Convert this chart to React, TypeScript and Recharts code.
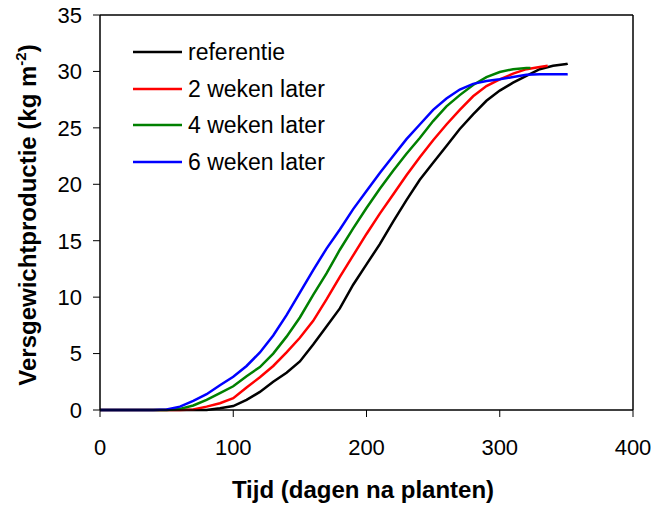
import { Label, Line, LineChart, ReferenceLine, XAxis, YAxis } from 'recharts'

// days after planting, every 10 days
const days = [
  0, 10, 20, 30, 40, 50, 60, 70, 80, 90, 100, 110, 120, 130, 140, 150, 160, 170,
  180, 190, 200, 210, 220, 230, 240, 250, 260, 270, 280, 290, 300, 310, 320, 330, 340, 350,
]

const referentie = [
  0, 0, 0, 0, 0, 0, 0, 0, 0, 0.15, 0.35, 0.9, 1.6, 2.5, 3.3, 4.3, 5.8, 7.4, 9.0, 11.1, 12.9,
  14.7, 16.7, 18.6, 20.4, 21.9, 23.4, 24.9, 26.2, 27.4, 28.3, 29.0, 29.6, 30.2, 30.5, 30.65,
]
const tweeWeken = [
  0, 0, 0, 0, 0, 0, 0, 0.05, 0.3, 0.6, 1.05, 2.0, 2.9, 3.9, 5.1, 6.4, 7.9, 9.8, 11.8, 13.7,
  15.6, 17.4, 19.1, 20.8, 22.4, 23.9, 25.3, 26.6, 27.8, 28.7, 29.3, 29.8, 30.2, 30.4,
]
const vierWeken = [
  0, 0, 0, 0, 0, 0, 0.1, 0.4, 0.9, 1.5, 2.1, 3.0, 3.8, 5.0, 6.5, 8.2, 10.2, 12.1, 14.2, 16.1,
  17.9, 19.6, 21.2, 22.7, 24.1, 25.6, 26.9, 27.9, 28.8, 29.5, 29.95, 30.2, 30.3,
]
const zesWeken = [
  0, 0, 0, 0, 0, 0.05, 0.3, 0.8, 1.4, 2.2, 2.95, 3.9, 5.1, 6.6, 8.4, 10.4, 12.4, 14.3, 16.0,
  17.8, 19.4, 21.0, 22.5, 24.0, 25.3, 26.6, 27.6, 28.4, 28.9, 29.15, 29.3, 29.5, 29.7, 29.75,
  29.75, 29.75,
]

// last simulated day of each run (between the 10-day points)
const endDays = [351, 336, 323, 351]
const endValues = [30.7, 30.5, 30.3, 29.76]

const seriesNames = ['referentie', '2 weken later', '4 weken later', '6 weken later']
const seriesValues = [referentie, tweeWeken, vierWeken, zesWeken]
const seriesColors = ['#000000', '#FF0000', '#008000', '#0000FF']

const xTicks = [0, 100, 200, 300, 400]
const yTicks = [0, 5, 10, 15, 20, 25, 30, 35]

const FONT = 'Arial, "Liberation Sans", sans-serif'

function toPoints(values: number[], endDay: number, endValue: number) {
  const pts = values.map((v, i) => ({ day: days[i], value: v }))
  if (endDay > pts[pts.length - 1].day) pts.push({ day: endDay, value: endValue })
  return pts
}

const series = seriesNames.map((name, i) => ({
  name,
  color: seriesColors[i],
  data: toPoints(seriesValues[i], endDays[i], endValues[i]),
}))

function ChartLegend() {
  return (
    <div style={{ position: 'absolute', left: 133, top: 34, fontFamily: FONT, fontSize: 23 }}>
      {series.map((s) => (
        <div key={s.name} style={{ display: 'flex', alignItems: 'center', height: 36.5 }}>
          <svg width={49} height={4} style={{ marginRight: 6 }}>
            <line x1={0} y1={2} x2={49} y2={2} stroke={s.color} strokeWidth={2.5} />
          </svg>
          <span style={{ color: '#000', lineHeight: '36.5px' }}>{s.name}</span>
        </div>
      ))}
    </div>
  )
}

export default function App() {
  return (
    <div style={{ position: 'absolute', left: 0, top: 0, width: 656, height: 508, background: '#fff' }}>
      <LineChart
        width={656}
        height={508}
        margin={{ top: 15, right: 23, bottom: 38, left: 0 }}
        style={{ fontFamily: FONT }}
      >
        <XAxis
          type="number"
          dataKey="day"
          domain={[0, 400]}
          ticks={xTicks}
          height={60}
          tickSize={7}
          tickMargin={22}
          tick={{ fontSize: 22, fill: '#000' }}
          axisLine={{ stroke: '#000', strokeWidth: 1.5 }}
          tickLine={{ stroke: '#000' }}
        >
          <Label
            content={() => (
              <text x={363} y={498} textAnchor="middle" fontSize={24} fontWeight="bold" fill="#000">
                Tijd (dagen na planten)
              </text>
            )}
          />
        </XAxis>
        <YAxis
          type="number"
          domain={[0, 35]}
          ticks={yTicks}
          width={100}
          tickSize={7}
          tickMargin={11}
          tick={{ fontSize: 22, fill: '#000' }}
          axisLine={{ stroke: '#000', strokeWidth: 1.5 }}
          tickLine={{ stroke: '#000' }}
        >
          <Label
            content={() => (
              <text
                x={36}
                y={215}
                transform="rotate(-90 36 215)"
                textAnchor="middle"
                fontSize={24}
                fontWeight="bold"
                fill="#000"
              >
                Versgewichtproductie (kg m
                <tspan fontSize={15} dy={-10}>
                  -2
                </tspan>
                <tspan dy={10}>)</tspan>
              </text>
            )}
          />
        </YAxis>
        <ReferenceLine y={35} stroke="#000" strokeWidth={1.5} />
        <ReferenceLine x={400} stroke="#000" strokeWidth={1.5} />
        {series.map((s) => (
          <Line
            key={s.name}
            data={s.data}
            dataKey="value"
            name={s.name}
            type="linear"
            stroke={s.color}
            strokeWidth={2.5}
            dot={false}
            activeDot={false}
            isAnimationActive={false}
          />
        ))}
      </LineChart>
      <ChartLegend />
    </div>
  )
}
